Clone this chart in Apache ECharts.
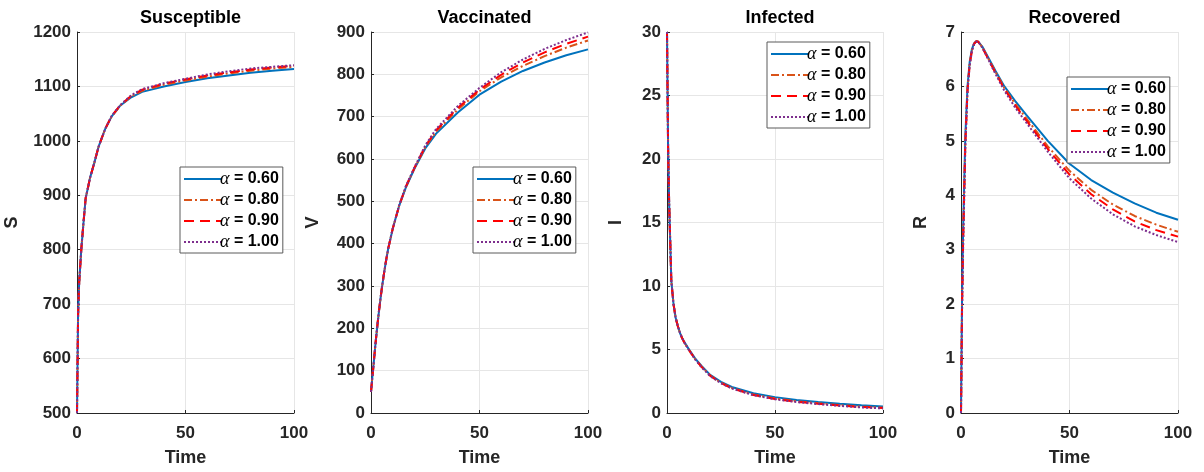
<!DOCTYPE html>
<html>
<head>
<meta charset="utf-8">
<script src="https://cdn.jsdelivr.net/npm/echarts@6/dist/echarts.min.js"></script>
<style>
  html, body { margin: 0; padding: 0; background: #fff; }
  #chart { width: 1204px; height: 472px; }
</style>
</head>
<body>
<div id="chart"></div>
<script>
// time samples shared by every curve
const t = [0, 0.5, 1, 2, 3, 4, 5, 6, 7, 8, 10, 13, 16, 20, 25, 30, 40, 50, 60, 70, 80, 90, 100];

const alphaNames = ["α = 0.60", "α = 0.80", "α = 0.90", "α = 1.00"];

// Susceptible
const S060 = [500, 680, 740, 802, 850, 895, 913, 932, 946, 960, 990, 1022, 1045, 1065, 1080, 1090, 1100, 1108, 1115, 1120, 1125, 1129, 1132];
const S080 = [500, 680, 740, 802, 850, 895, 913, 932, 946, 960, 990, 1022, 1045, 1065, 1082, 1092, 1103, 1111, 1118, 1124, 1129, 1133, 1136];
const S090 = [500, 680, 740, 802, 850, 895, 913, 932, 946, 960, 990, 1022, 1046, 1066, 1083, 1094, 1105, 1113, 1120, 1126, 1131, 1135, 1138];
const S100 = [500, 680, 740, 802, 850, 895, 913, 932, 946, 960, 990, 1022, 1046, 1066, 1084, 1095, 1106, 1114, 1122, 1128, 1133, 1136, 1139];

// Vaccinated
const V060 = [50, 78, 104, 160, 210, 255, 295, 330, 362, 390, 435, 490, 532, 577, 625, 660, 710, 752, 783, 808, 828, 845, 859];
const V080 = [50, 78, 104, 160, 210, 255, 295, 330, 362, 390, 435, 490, 533, 578, 628, 665, 717, 760, 793, 820, 843, 863, 880];
const V090 = [50, 78, 104, 160, 210, 255, 295, 330, 362, 390, 435, 490, 534, 579, 630, 668, 721, 764, 799, 828, 852, 872, 889];
const V100 = [50, 78, 104, 160, 210, 255, 295, 330, 362, 390, 435, 491, 535, 580, 632, 671, 725, 768, 805, 835, 860, 881, 899];

// Infected
const I060 = [30, 21, 16.5, 10.4, 8.6, 7.5, 6.85, 6.3, 5.9, 5.6, 5.05, 4.3, 3.7, 3.0, 2.45, 2.05, 1.55, 1.25, 1.02, 0.86, 0.72, 0.61, 0.52];
const I080 = [30, 21, 16.5, 10.4, 8.6, 7.5, 6.85, 6.3, 5.9, 5.55, 5.0, 4.25, 3.65, 2.95, 2.38, 1.97, 1.45, 1.14, 0.92, 0.76, 0.62, 0.50, 0.42];
const I090 = [30, 21, 16.5, 10.4, 8.6, 7.5, 6.85, 6.3, 5.9, 5.55, 5.0, 4.25, 3.63, 2.93, 2.36, 1.95, 1.42, 1.11, 0.89, 0.73, 0.59, 0.47, 0.39];
const I100 = [30, 21, 16.5, 10.4, 8.6, 7.5, 6.85, 6.3, 5.9, 5.55, 5.0, 4.22, 3.6, 2.9, 2.34, 1.93, 1.40, 1.08, 0.86, 0.70, 0.56, 0.44, 0.36];

// Recovered
const R060 = [0, 2.2, 3.4, 5.1, 6.0, 6.45, 6.68, 6.79, 6.83, 6.82, 6.72, 6.50, 6.28, 6.00, 5.73, 5.48, 5.00, 4.58, 4.28, 4.05, 3.85, 3.68, 3.55];
const R080 = [0, 2.1, 3.3, 5.0, 5.95, 6.42, 6.66, 6.78, 6.83, 6.82, 6.71, 6.48, 6.26, 5.97, 5.68, 5.42, 4.90, 4.45, 4.10, 3.83, 3.62, 3.46, 3.33];
const R090 = [0, 2.0, 3.2, 4.95, 5.92, 6.40, 6.65, 6.78, 6.83, 6.82, 6.70, 6.47, 6.24, 5.95, 5.65, 5.38, 4.85, 4.38, 4.02, 3.74, 3.52, 3.36, 3.24];
const R100 = [0, 1.9, 3.1, 4.9, 5.9, 6.38, 6.64, 6.77, 6.82, 6.82, 6.70, 6.46, 6.22, 5.92, 5.61, 5.34, 4.80, 4.31, 3.94, 3.65, 3.43, 3.27, 3.14];

const panels = [
  { title: "Susceptible", yName: "S", min: 500, max: 1200, step: 100, lines: [S060, S080, S090, S100] },
  { title: "Vaccinated", yName: "V", min: 0, max: 900, step: 100, lines: [V060, V080, V090, V100] },
  { title: "Infected", yName: "I", min: 0, max: 30, step: 5, lines: [I060, I080, I090, I100] },
  { title: "Recovered", yName: "R", min: 0, max: 7, step: 1, lines: [R060, R080, R090, R100] }
];

const gridPos = [
  { left: 77, width: 217, nameGap: 56, legend: { left: 180, top: 167 } },
  { left: 371, width: 217, nameGap: 49, legend: { left: 473, top: 167 } },
  { left: 667, width: 216, nameGap: 42, legend: { left: 767, top: 42 } },
  { left: 961, width: 217, nameGap: 31, legend: { left: 1067, top: 77 } }
];

const lineStyles = [
  { color: "#0072BD", width: 2, type: "solid" },
  { color: "#D95319", width: 2, type: [8, 3, 2, 3] },
  { color: "#FF0000", width: 2, type: [10, 6] },
  { color: "#7E2F8E", width: 2, type: [2, 2] }
];

const sans = "Liberation Sans, Arial, sans-serif";
const axisText = { color: "#262626", fontWeight: "bold", fontSize: 17, fontFamily: sans };

const option = {
  backgroundColor: "#fff",
  animation: false,
  title: panels.map((p, i) => ({
    text: p.title,
    left: gridPos[i].left + gridPos[i].width / 2,
    top: 4,
    textAlign: "center",
    textStyle: { color: "#000", fontWeight: "bold", fontSize: 18, fontFamily: sans }
  })),
  legend: panels.map((p, i) => ({
    data: alphaNames,
    orient: "vertical",
    left: gridPos[i].legend.left,
    top: gridPos[i].legend.top,
    backgroundColor: "#fff",
    borderColor: "#5a5a5a",
    borderWidth: 1,
    borderRadius: 0,
    padding: [3, 4, 2, 3],
    itemGap: 3,
    itemWidth: 37,
    itemHeight: 17,
    selectedMode: false,
    itemStyle: { opacity: 0 },
    lineStyle: { width: 2 },
    formatter: name => "{a|α}{b|" + name.slice(1) + "}",
    textStyle: {
      padding: [0, 0, 0, -6],
      lineHeight: 17,
      rich: {
        a: { fontFamily: "Liberation Serif, Times New Roman, serif", fontStyle: "italic", fontSize: 18, lineHeight: 17, color: "#000" },
        b: { fontFamily: sans, fontWeight: "bold", fontSize: 16, lineHeight: 17, color: "#000" }
      }
    }
  })),
  grid: gridPos.map(g => ({ left: g.left, width: g.width, top: 32, height: 383 })),
  xAxis: panels.map((p, i) => ({
    type: "value",
    gridIndex: i,
    min: 0, max: 100, interval: 50,
    name: "Time",
    nameLocation: "middle",
    nameGap: 36,
    nameTextStyle: { color: "#262626", fontWeight: "bold", fontSize: 18, fontFamily: sans },
    axisLine: { show: true, onZero: false, lineStyle: { color: "#262626", width: 1 } },
    axisTick: { show: true, inside: true, length: 3, lineStyle: { color: "#262626" } },
    axisLabel: Object.assign({ margin: 12 }, axisText),
    splitLine: { show: true, lineStyle: { color: "#e6e6e6", width: 1 } }
  })),
  yAxis: panels.map((p, i) => ({
    type: "value",
    gridIndex: i,
    min: p.min, max: p.max, interval: p.step,
    name: p.yName,
    nameLocation: "middle",
    nameGap: gridPos[i].nameGap,
    nameRotate: 90,
    nameTextStyle: { color: "#262626", fontWeight: "bold", fontSize: 18, fontFamily: sans },
    axisLine: { show: true, onZero: false, lineStyle: { color: "#262626", width: 1 } },
    axisTick: { show: true, inside: true, length: 3, lineStyle: { color: "#262626" } },
    axisLabel: Object.assign({ margin: 6, formatter: v => String(v) }, axisText),
    splitLine: { show: true, lineStyle: { color: "#e6e6e6", width: 1 } }
  })),
  series: []
};

panels.forEach((p, i) => {
  p.lines.forEach((vals, k) => {
    option.series.push({
      type: "line",
      name: alphaNames[k],
      xAxisIndex: i,
      yAxisIndex: i,
      data: t.map((x, j) => [x, vals[j]]),
      symbol: "none",
      showSymbol: false,
      smooth: false,
      clip: true,
      lineStyle: lineStyles[k],
      itemStyle: { color: lineStyles[k].color }
    });
  });
});

const chart = echarts.init(document.getElementById("chart"), null, { renderer: "canvas" });
chart.setOption(option);
</script>
</body>
</html>
